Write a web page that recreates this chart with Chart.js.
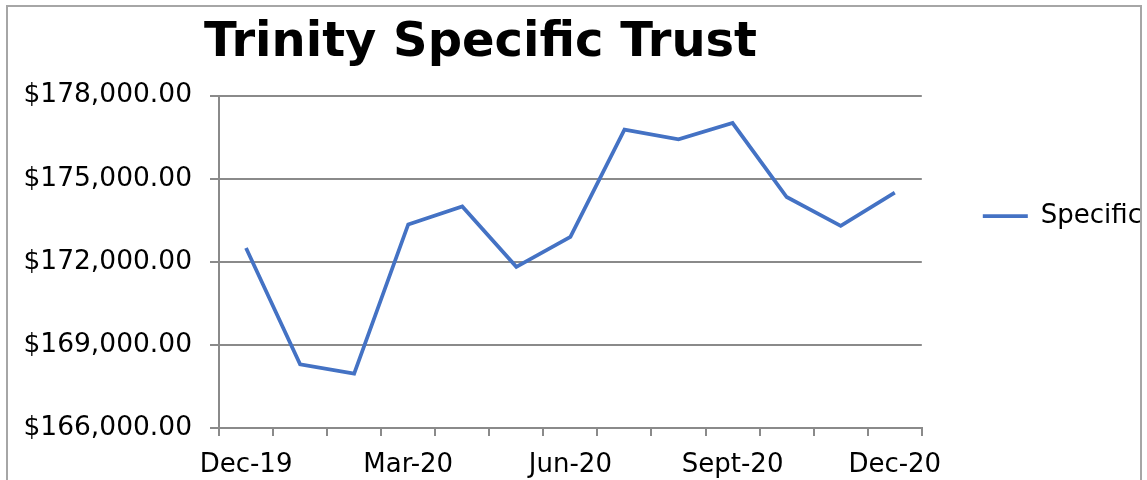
<!DOCTYPE html>
<html>
<head>
<meta charset="utf-8">
<script src="https://cdn.jsdelivr.net/npm/chart.js@4/dist/chart.umd.min.js"></script>
<style>
  html, body { margin: 0; padding: 0; background: #ffffff; }
  #wrap { position: relative; width: 1147px; height: 480px; }
  #frame { position: absolute; left: 6px; top: 5px; width: 1136px; height: 500px; border: 2px solid #a6a6a6; box-sizing: border-box; pointer-events: none; }
</style>
</head>
<body>
<div id="wrap">
  <canvas id="c" width="1147" height="480"></canvas>
  <div id="frame"></div>
</div>
<script>
const chartTitle = 'Trinity Specific Trust';
const seriesName = 'Specific';
const categories = ['Dec-19', 'Jan-20', 'Feb-20', 'Mar-20', 'Apr-20', 'May-20', 'Jun-20',
                    'Jul-20', 'Aug-20', 'Sept-20', 'Oct-20', 'Nov-20', 'Dec-20'];
const shownLabels = ['Dec-19', 'Mar-20', 'Jun-20', 'Sept-20', 'Dec-20'];
const specificValues = [172500, 168300, 167960, 173350, 174000, 171820, 172900,
                        176770, 176420, 177010, 174340, 173300, 174500];
const yMin = 166000;
const yMax = 178000;
const yStep = 3000;

const FONT = "'DejaVu Sans', Verdana, sans-serif";
const GRID = '#8a8a8a';

new Chart(document.getElementById('c'), {
  type: 'line',
  data: {
    labels: categories,
    datasets: [{
      label: seriesName,
      data: specificValues,
      borderColor: '#4472c4',
      backgroundColor: '#4472c4',
      borderWidth: 3.75,
      pointRadius: 0,
      pointHoverRadius: 0,
      tension: 0,
      fill: false
    }]
  },
  options: {
    responsive: false,
    animation: false,
    layout: { padding: { left: -191, right: -5, top: -48, bottom: 0 } },
    plugins: {
      title: {
        display: true,
        text: chartTitle,
        color: '#000000',
        font: { family: FONT, size: 48, weight: 'bold', lineHeight: 1.2 },
        padding: { top: 63, bottom: 23 }
      },
      legend: {
        display: true,
        position: 'right',
        align: 'center',
        maxWidth: 236,
        labels: {
          color: '#000000',
          font: { family: FONT, size: 26 },
          usePointStyle: true,
          pointStyle: 'line',
          pointStyleWidth: 45,
          padding: 61
        }
      },
      tooltip: { enabled: false }
    },
    scales: {
      x: {
        type: 'category',
        offset: true,
        afterFit: s => { s.height = 52; },
        grid: {
          display: true,
          offset: true,
          drawOnChartArea: false,
          drawTicks: true,
          tickLength: 8,
          color: GRID,
          lineWidth: 2
        },
        border: { display: true, color: GRID, width: 2 },
        ticks: {
          autoSkip: false,
          maxRotation: 0,
          minRotation: 0,
          padding: 14,
          color: '#000000',
          font: { family: FONT, size: 26 },
          callback: function (value, index) {
            const lab = this.getLabelForValue(value);
            return shownLabels.includes(lab) ? lab : '';
          }
        }
      },
      y: {
        min: yMin,
        max: yMax,
        afterFit: s => { s.width = 410; },
        grid: {
          color: GRID,
          lineWidth: 2,
          drawTicks: true,
          tickLength: 9
        },
        border: { display: true, color: GRID, width: 2 },
        ticks: {
          stepSize: yStep,
          padding: 18,
          color: '#000000',
          font: { family: FONT, size: 26.5 },
          callback: v => '$' + Number(v).toLocaleString('en-US', { minimumFractionDigits: 2, maximumFractionDigits: 2 })
        }
      }
    }
  }
});
</script>
</body>
</html>
